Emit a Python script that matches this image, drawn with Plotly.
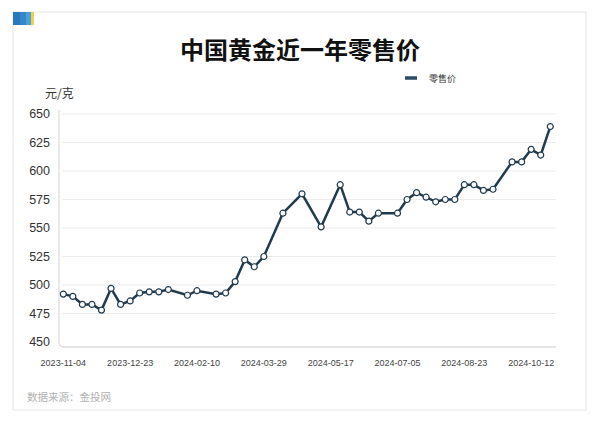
import plotly.graph_objects as go

# ---- data ----
dates = [
    "2023-11-04", "2023-11-11", "2023-11-18", "2023-11-25", "2023-12-02", "2023-12-09", "2023-12-16",
    "2023-12-23", "2023-12-30", "2024-01-06", "2024-01-13", "2024-01-20", "2024-01-27", "2024-02-03",
    "2024-02-10", "2024-02-17", "2024-02-24", "2024-03-02", "2024-03-09", "2024-03-16", "2024-03-23",
    "2024-03-29", "2024-04-05", "2024-04-12", "2024-04-19", "2024-04-26", "2024-05-03", "2024-05-10",
    "2024-05-17", "2024-05-24", "2024-05-31", "2024-06-07", "2024-06-14", "2024-06-21", "2024-06-28",
    "2024-07-05", "2024-07-12", "2024-07-19", "2024-07-26", "2024-08-02", "2024-08-09", "2024-08-16",
    "2024-08-23", "2024-08-30", "2024-09-06", "2024-09-13", "2024-09-20", "2024-09-27", "2024-10-05",
    "2024-10-12", "2024-10-19", "2024-10-26",
]
price = [
    492, 490, 483, 483, 478, 497, 483,
    486, 493, 494, 494, 496, None, 491,
    495, None, 492, 493, 503, 522, 516,
    525, None, 563, None, 580, None, 551,
    None, 588, 564, 564, 556, 563, None,
    563, 575, 581, 577, 573, 575, 575,
    588, 588, 583, 584, None, 608, 608,
    619, 614, 639,
]
tick_dates = ["2023-11-04", "2023-12-23", "2024-02-10", "2024-03-29",
              "2024-05-17", "2024-07-05", "2024-08-23", "2024-10-12"]
y_ticks = [450, 475, 500, 525, 550, 575, 600, 625, 650]
series_name = "零售价"
title_text = "中国黄金近一年零售价"
unit_text = "元/克"
source_text = "数据来源：金投网"

# ---- layout geometry (screen pixels; page body has an 8px margin) ----
OFF = 8
W, H = 600 - OFF, 425 - OFF
L, R, T, B = 59, 556, 110, 347          # plot area on screen
pw, ph = R - L, B - T


def px(x):
    return (x - L) / pw


def py(y):
    return (B - y) / ph


LINE = "#213b4d"
FONT = "Liberation Sans, Noto Sans CJK SC, sans-serif"
CJK = "Noto Sans CJK SC, sans-serif"

fig = go.Figure()
fig.add_trace(go.Scatter(
    x=dates, y=price, mode="lines+markers", name=series_name,
    connectgaps=True,
    line=dict(color=LINE, width=2.5),
    marker=dict(size=6, color="white", line=dict(color=LINE, width=1.2)),
    showlegend=False,
))

shapes = []
# card
shapes.append(dict(type="rect", xref="paper", yref="paper",
                   x0=px(13), x1=px(586), y0=py(410), y1=py(12),
                   line=dict(color="#e6e6e6", width=1), fillcolor="white", layer="below"))
# icon
for x0, x1, c in [(13, 20, "#2a77bb"), (20, 26, "#3388c9"), (26, 31, "#4d9fd9"), (31, 34, "#f1cf47")]:
    shapes.append(dict(type="rect", xref="paper", yref="paper",
                       x0=px(x0), x1=px(x1), y0=py(25), y1=py(12),
                       line=dict(width=0), fillcolor=c, layer="below"))
# gridlines
for v in y_ticks[1:]:
    shapes.append(dict(type="line", xref="paper", yref="y", x0=px(62), x1=1, y0=v, y1=v,
                       line=dict(color="#ebebeb", width=1), layer="below"))
# axis lines with rounded corner
r = 5
shapes.append(dict(type="path", xref="paper", yref="paper",
                   path=f"M 0,1 L 0,{py(B - r)} Q 0,0 {px(L + r)},0 L 1,0",
                   line=dict(color="#dddddd", width=1.3)))
# legend symbol
shapes.append(dict(type="line", xref="paper", yref="paper",
                   x0=px(405), x1=px(417), y0=py(78), y1=py(78),
                   line=dict(color="#2b4a63", width=3.5)))

annotations = [
    dict(text=f"<b>{title_text}</b>", xref="paper", yref="paper", x=px(300), y=py(48),
         xanchor="center", yanchor="middle", showarrow=False,
         font=dict(family=CJK, size=24, color="#111111")),
    dict(text=series_name, xref="paper", yref="paper", x=px(427), y=py(78),
         xanchor="left", yanchor="middle", showarrow=False,
         font=dict(family=CJK, size=9, color="#333333")),
    dict(text=unit_text, xref="paper", yref="paper", x=px(59), y=py(92),
         xanchor="center", yanchor="middle", showarrow=False,
         font=dict(family=CJK, size=12, color="#333333")),
    dict(text=source_text, xref="paper", yref="paper", x=px(25), y=py(396),
         xanchor="left", yanchor="middle", showarrow=False,
         font=dict(family=CJK, size=10.5, color="#b3b3b3")),
]

y0 = 450 - 5 / 1.14
y1 = y0 + ph / 1.14

fig.update_layout(
    width=W, height=H,
    margin=dict(l=L - OFF, r=W - (R - OFF), t=T - OFF, b=H - (B - OFF)),
    paper_bgcolor="white", plot_bgcolor="rgba(0,0,0,0)",
    shapes=shapes, annotations=annotations,
    xaxis=dict(type="category", range=[-0.45, 51.6], tickmode="array",
               tickvals=tick_dates, ticktext=tick_dates, showgrid=False, zeroline=False,
               showline=False, ticks="", ticklabelstandoff=9,
               tickfont=dict(family=FONT, size=9, color="#444444")),
    yaxis=dict(range=[y0, y1], tickmode="array", tickvals=y_ticks, showgrid=False,
               zeroline=False, showline=False, ticks="", ticklabelstandoff=8,
               tickfont=dict(family=FONT, size=12.5, color="#333333")),
    hovermode=False,
)

fig.write_html("out.html")
